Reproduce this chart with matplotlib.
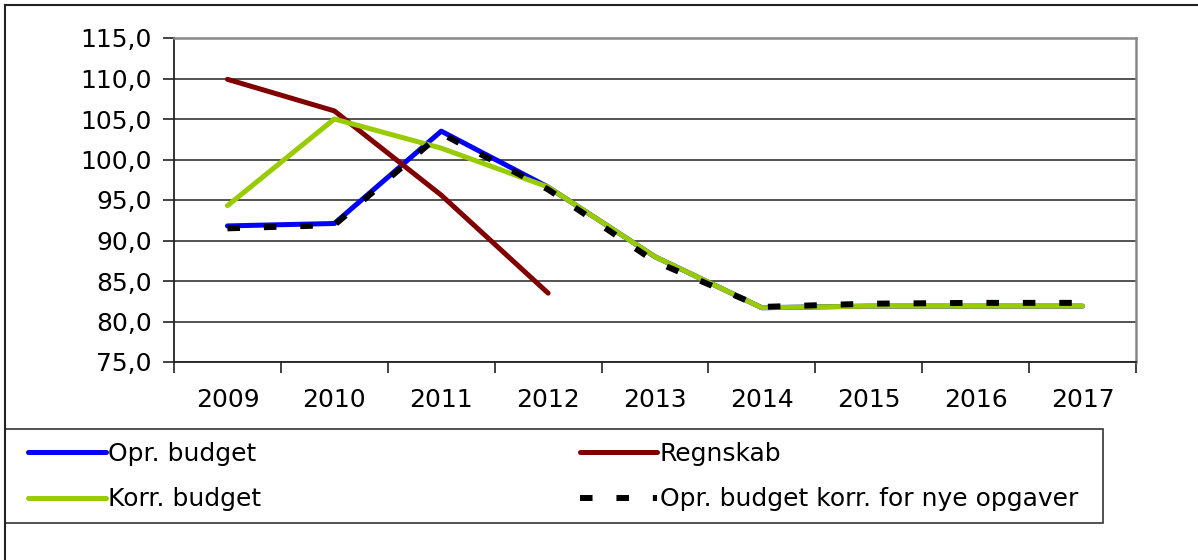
import matplotlib
matplotlib.use("Agg")
import matplotlib.pyplot as plt
from matplotlib.ticker import FuncFormatter, FixedLocator
from matplotlib.lines import Line2D
from matplotlib.patches import Rectangle

years = ["2009", "2010", "2011", "2012", "2013", "2014", "2015", "2016", "2017"]
opr_budget = [91.8, 92.1, 103.5, 96.6, 88.0, 81.7, 81.9, 81.9, 81.9]
regnskab = [109.9, 106.0, 95.6, 83.5]
korr_budget = [94.3, 105.0, 101.4, 96.6, 88.0, 81.7, 81.9, 81.9, 81.9]
opr_korr_nye = [91.5, 91.9, 103.2, 96.3, 87.4, 81.8, 82.2, 82.3, 82.3]

plt.rcParams["font.family"] = ["DejaVu Sans"]
plt.rcParams["font.size"] = 18

fig = plt.figure(figsize=(11.98, 5.6), dpi=100)
ax = fig.add_axes([174 / 1198, 1 - 362 / 560, (1136 - 174) / 1198, (362 - 38) / 560])

x = list(range(len(years)))
ax.plot(x, opr_budget, color="#0000FF", lw=3.6, solid_capstyle="round",
        solid_joinstyle="round", label="Opr. budget", zorder=3)
ax.plot(x[:len(regnskab)], regnskab, color="#800000", lw=3.6, solid_capstyle="round",
        solid_joinstyle="round", label="Regnskab", zorder=4)
ax.plot(x, korr_budget, color="#99CC00", lw=3.6, solid_capstyle="round",
        solid_joinstyle="round", label="Korr. budget", zorder=5)
ax.plot(x, opr_korr_nye, color="black", lw=4.3, dashes=(2.1, 4.0),
        dash_capstyle="butt", label="Opr. budget korr. for nye opgaver", zorder=6)

ax.set_xlim(-0.5, len(years) - 0.5)
ax.set_ylim(75, 115)
ax.set_yticks(range(75, 116, 5))
ax.yaxis.set_major_formatter(FuncFormatter(lambda v, p: f"{v:.1f}".replace(".", ",")))
ax.set_xticks(x)
ax.set_xticklabels(years)
ax.xaxis.set_minor_locator(FixedLocator([i - 0.5 for i in range(len(years) + 1)]))
ax.tick_params(axis="x", which="major", length=0, pad=19)
ax.tick_params(axis="x", which="minor", length=8, width=1.2, color="#222222")
ax.tick_params(axis="y", length=8, width=1.2, color="#222222", pad=8)

ax.grid(axis="y", color="#444444", lw=1.3)
ax.set_axisbelow(True)
for side in ["left", "bottom"]:
    ax.spines[side].set_color("#222222")
    ax.spines[side].set_linewidth(1.3)
for side in ["top", "right"]:
    ax.spines[side].set_color("#888888")
    ax.spines[side].set_linewidth(1.8)

# outer chart border (left and top visible)
fig.add_artist(Line2D([5 / 1198, 5 / 1198], [0, 1 - 5 / 560], transform=fig.transFigure,
                      color="#222222", lw=1.5))
fig.add_artist(Line2D([5 / 1198, 1], [1 - 5 / 560, 1 - 5 / 560], transform=fig.transFigure,
                      color="#222222", lw=1.5))

# legend box
fig.add_artist(Rectangle((5 / 1198, 1 - 523 / 560), 1098 / 1198, 94 / 560,
                         transform=fig.transFigure, fill=False, edgecolor="#333333", lw=1.2))

handles, labels = ax.get_legend_handles_labels()
order = [0, 2, 1, 3]
fig.legend([handles[i] for i in order], [labels[i] for i in order],
           loc="center left", bbox_to_anchor=(28 / 1198, 1 - 476.5 / 560),
           ncol=2, frameon=False, handlelength=3.1, handletextpad=0.1,
           columnspacing=12.75, labelspacing=0.87, borderpad=0, borderaxespad=0,
           fontsize=18)

fig.savefig("out.png", dpi=100)
